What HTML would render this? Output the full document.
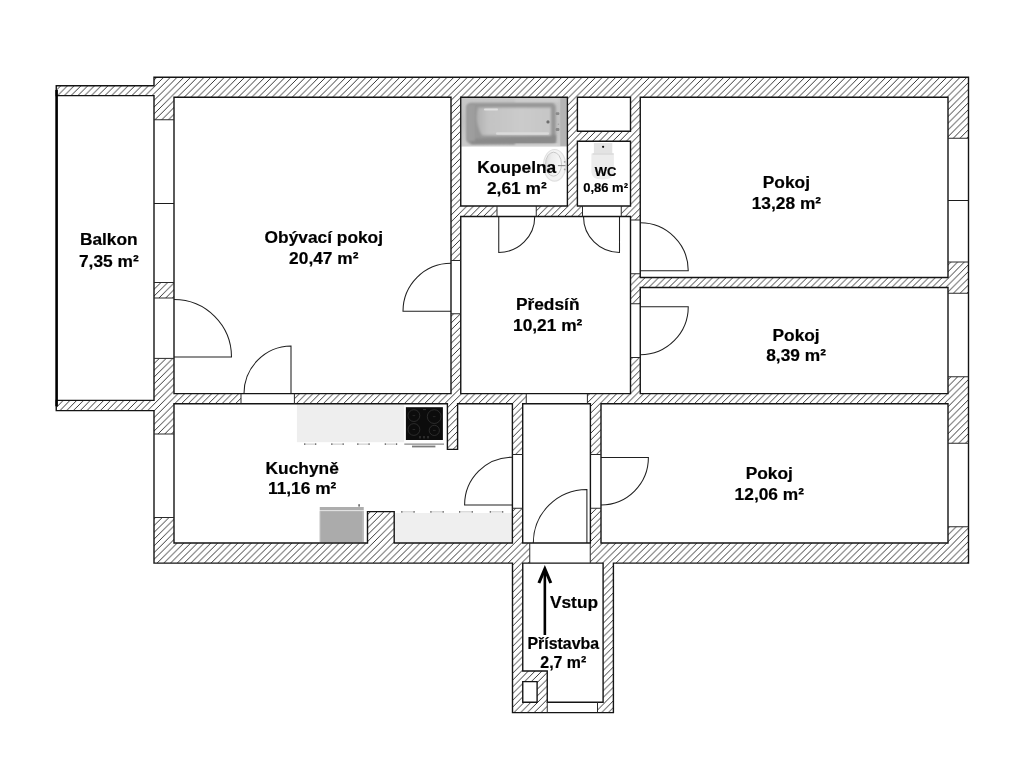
<!DOCTYPE html>
<html lang="cs">
<head>
<meta charset="utf-8">
<title>Půdorys bytu</title>
<style>
html,body{margin:0;padding:0;background:#fff;}
body{width:1024px;height:768px;overflow:hidden;}
svg{display:block;}
</style>
</head>
<body>
<svg width="1024" height="768" viewBox="0 0 1024 768">
<defs>
<pattern id="h" patternUnits="userSpaceOnUse" width="6.75" height="6.75" x="4.7" y="0">
<path d="M-1,1 L1,-1 M-1,7.75 L7.75,-1 M5.75,7.75 L7.75,5.75" stroke="#262626" stroke-width="0.92" fill="none"/>
</pattern>
<linearGradient id="bathOuter" x1="0" y1="0" x2="0" y2="1">
<stop offset="0" stop-color="#c8c8c8"/><stop offset="0.5" stop-color="#c0c0c0"/><stop offset="1" stop-color="#cacaca"/>
</linearGradient>
<linearGradient id="bathIn" x1="0" y1="0" x2="1" y2="0">
<stop offset="0" stop-color="#b0b0b0"/><stop offset="0.15" stop-color="#c3c3c3"/><stop offset="0.6" stop-color="#cbcbcb"/><stop offset="1" stop-color="#c6c6c6"/>
</linearGradient>
<linearGradient id="sinkG" x1="0" y1="0" x2="1" y2="0.3"><stop offset="0" stop-color="#d6d6d6"/><stop offset="0.4" stop-color="#ececec"/><stop offset="1" stop-color="#f8f8f8"/></linearGradient>
<filter id="b1" x="-20%" y="-20%" width="140%" height="140%"><feGaussianBlur stdDeviation="1.2"/></filter>
<filter id="b2" x="-20%" y="-20%" width="140%" height="140%"><feGaussianBlur stdDeviation="0.6"/></filter>
<filter id="tb" x="0" y="0" width="1024" height="768" filterUnits="userSpaceOnUse"><feGaussianBlur stdDeviation="0.28"/></filter>
<filter id="b3" x="-20%" y="-20%" width="140%" height="140%"><feGaussianBlur stdDeviation="0.35"/></filter>
</defs>
<rect width="1024" height="768" fill="#fff"/>
<g id="furniture">
<rect x="296.9" y="404" width="107.5" height="38.2" fill="#eeeeee"/>
<path d="M304.4,444.1 H316" stroke="#9a9a9a" stroke-width="0.6"/>
<rect x="304.09999999999997" y="443.4" width="1.2" height="1.4" fill="#555"/><rect x="315.1" y="443.4" width="1.2" height="1.4" fill="#555"/>
<path d="M331.5,444.1 H343.5" stroke="#9a9a9a" stroke-width="0.6"/>
<rect x="331.2" y="443.4" width="1.2" height="1.4" fill="#555"/><rect x="342.6" y="443.4" width="1.2" height="1.4" fill="#555"/>
<path d="M357.5,444.1 H369.4" stroke="#9a9a9a" stroke-width="0.6"/>
<rect x="357.2" y="443.4" width="1.2" height="1.4" fill="#555"/><rect x="368.5" y="443.4" width="1.2" height="1.4" fill="#555"/>
<path d="M385,444.1 H396.9" stroke="#9a9a9a" stroke-width="0.6"/>
<rect x="384.7" y="443.4" width="1.2" height="1.4" fill="#555"/><rect x="396.0" y="443.4" width="1.2" height="1.4" fill="#555"/>
<rect x="404.2" y="404" width="41.7" height="39.3" fill="#fdfdfd"/>
<rect x="405.9" y="407.2" width="37" height="32.8" fill="#0c0c0c"/>
<circle cx="413.9" cy="415.6" r="5.9" fill="none" stroke="#404040" stroke-width="0.6"/>
<path d="M412.59999999999997,415.6 H415.2" stroke="#444" stroke-width="0.5"/>
<circle cx="434.2" cy="416.6" r="6.9" fill="none" stroke="#404040" stroke-width="0.6"/>
<path d="M432.9,416.6 H435.5" stroke="#444" stroke-width="0.5"/>
<circle cx="413.9" cy="429.5" r="5.9" fill="none" stroke="#404040" stroke-width="0.6"/>
<path d="M412.59999999999997,429.5 H415.2" stroke="#444" stroke-width="0.5"/>
<circle cx="434.3" cy="430.4" r="5.1" fill="none" stroke="#404040" stroke-width="0.6"/>
<path d="M433.0,430.4 H435.6" stroke="#444" stroke-width="0.5"/>
<path d="M420,436 v2.4 M424,436 v2.4 M428,436 v2.4" stroke="#666" stroke-width="0.7"/>
<path d="M423,409.6 h3" stroke="#555" stroke-width="0.6"/>
<path d="M404.3,444.1 H444" stroke="#6a6a6a" stroke-width="1"/>
<path d="M412,446.5 H435.4" stroke="#7c7c7c" stroke-width="1.8"/>
<rect x="319.75" y="507" width="44" height="3.2" fill="#adadad"/>
<rect x="319.75" y="510.2" width="44" height="0.9" fill="#dcdcdc"/>
<rect x="319.75" y="511.1" width="44" height="31.4" fill="#ababab"/>
<rect x="319.75" y="511.1" width="0.8" height="31.4" fill="#c4c4c4"/>
<rect x="362.3" y="511.1" width="1.45" height="31.4" fill="#bdbdbd"/>
<rect x="358.3" y="504.2" width="1.6" height="2.4" fill="#666"/>
<rect x="395" y="513" width="117.4" height="29.8" fill="#efefef"/>
<path d="M401.5,511.9 H414.4" stroke="#9a9a9a" stroke-width="0.6"/>
<rect x="401.2" y="511.2" width="1.2" height="1.4" fill="#555"/><rect x="413.5" y="511.2" width="1.2" height="1.4" fill="#555"/>
<path d="M430.6,511.9 H443.5" stroke="#9a9a9a" stroke-width="0.6"/>
<rect x="430.3" y="511.2" width="1.2" height="1.4" fill="#555"/><rect x="442.6" y="511.2" width="1.2" height="1.4" fill="#555"/>
<path d="M459.3,511.9 H472.6" stroke="#9a9a9a" stroke-width="0.6"/>
<rect x="459.0" y="511.2" width="1.2" height="1.4" fill="#555"/><rect x="471.70000000000005" y="511.2" width="1.2" height="1.4" fill="#555"/>
<path d="M490,511.9 H503" stroke="#9a9a9a" stroke-width="0.6"/>
<rect x="489.7" y="511.2" width="1.2" height="1.4" fill="#555"/><rect x="502.1" y="511.2" width="1.2" height="1.4" fill="#555"/>
<rect x="461.4" y="97.6" width="105.4" height="48.9" fill="url(#bathOuter)"/>
<rect x="560.3" y="97.6" width="6.5" height="48.9" fill="#b3b3b3"/>
<rect x="466.6" y="102.8" width="89.2" height="41" rx="4.5" fill="#979797" filter="url(#b1)"/>
<path d="M470,139 L556,135 L556,143.4 L471,144.2 Z" fill="#8a8a8a" filter="url(#b1)"/>
<path d="M466.8,105 h8 v36 h-8 Z" fill="#9e9e9e" filter="url(#b1)"/>
<path d="M478,107.4 H551 V135.6 H482 Q474,122 478,107.4 Z" fill="url(#bathIn)" filter="url(#b1)"/>
<rect x="484" y="108.6" width="14" height="1.8" rx="0.9" fill="#e0e0e0" filter="url(#b2)"/>
<rect x="496" y="132.2" width="53" height="2.6" rx="1.3" fill="#dadada" filter="url(#b2)"/>
<rect x="515" y="98.6" width="44" height="3" fill="#d0d0d0" filter="url(#b1)"/>
<rect x="515" y="143.8" width="44" height="2.4" fill="#d4d4d4" filter="url(#b1)"/>
<circle cx="548" cy="121.9" r="1.6" fill="#6e6e6e" filter="url(#b3)"/>
<rect x="555.6" y="112.3" width="3.8" height="2.8" rx="1" fill="#8a8a8a" filter="url(#b3)"/>
<rect x="555.6" y="128.1" width="3.8" height="2.8" rx="1" fill="#8a8a8a" filter="url(#b3)"/>
<circle cx="558.4" cy="124.2" r="0.8" fill="#a2a2a2"/>
<rect x="461.4" y="145.9" width="105.4" height="1" fill="#e2e2e2"/>
<ellipse cx="554.6" cy="165.3" rx="11.7" ry="16.4" fill="#e0e0e0" filter="url(#b3)"/>
<ellipse cx="554.6" cy="165.3" rx="10.5" ry="15.2" fill="#f3f3f3" filter="url(#b3)"/>
<ellipse cx="553.5" cy="164.2" rx="8" ry="12" fill="url(#sinkG)" stroke="#c8c8c8" stroke-width="1" filter="url(#b2)"/>
<path d="M557.9,165.6 h7.6" stroke="#8c8c8c" stroke-width="1.1"/>
<circle cx="564.7" cy="161.8" r="0.9" fill="#a4a4a4"/><circle cx="564.7" cy="169.4" r="0.9" fill="#a4a4a4"/>
<path d="M591.4,153.5 H613.9 V172 Q613.9,179.6 602.6,179.6 Q591.4,179.6 591.4,172 Z" fill="#ececec" filter="url(#b3)"/>
<rect x="593.9" y="143" width="18.4" height="10.6" fill="#e3e3e3"/>
<rect x="592.6" y="153.2" width="21" height="1.6" fill="#dadada"/>
<circle cx="603.1" cy="146.8" r="1.1" fill="#111"/>
</g>
<g fill="none" stroke="#202020" stroke-width="1.05">
<path d="M174,357 L231.5,357 A57.50,57.50 0 0 0 174,299.5"/>
<path d="M291,393.6 L291,346 A47.60,47.60 0 0 0 244,393.6"/>
<path d="M451,311.2 L403,311.2 A48.00,48.00 0 0 1 451,263.2"/>
<path d="M498.75,216.5 L498.75,252.5 A36.00,36.00 0 0 0 534.75,216.5"/>
<path d="M619.5,216.5 L619.5,252.5 A36.00,36.00 0 0 1 583.5,216.5"/>
<path d="M640.25,270.75 L688.25,270.75 A48.00,48.00 0 0 0 640.25,222.75"/>
<path d="M640.25,306.75 L688.25,306.75 A48.00,48.00 0 0 1 640.25,354.75"/>
<path d="M512.4,505 L464.6,505 A47.80,47.80 0 0 1 512.4,457.2"/>
<path d="M601,457.5 L648.4,457.5 A47.40,47.40 0 0 1 601,504.9"/>
<path d="M586.9,543 L586.9,489.4 A53.60,53.60 0 0 0 533.3,543"/>
</g>
<path d="M154.00,400.40 L56.25,400.40 L56.25,410.60 L154.00,410.60 L154.00,543.00 L154.00,563.10 L174.00,563.10 L512.50,563.10 L512.50,702.20 L512.50,712.60 L522.75,712.60 L603.10,712.60 L613.40,712.60 L613.40,702.20 L613.40,563.10 L948.00,563.10 L968.50,563.10 L968.50,543.00 L968.50,97.25 L968.50,77.25 L948.00,77.25 L174.00,77.25 L154.00,77.25 L154.00,85.70 L56.25,85.70 L56.25,95.60 L154.00,95.60 L154.00,97.25Z M447.40,403.75 L447.40,449.40 L457.60,449.40 L457.60,403.75 L512.40,403.75 L512.40,543.00 L394.20,543.00 L394.20,511.60 L367.50,511.60 L367.50,543.00 L174.00,543.00 L174.00,403.75Z M590.40,403.75 L590.40,543.00 L522.70,543.00 L522.70,403.75Z M948.00,543.00 L601.00,543.00 L601.00,403.75 L948.00,403.75Z M640.25,287.50 L948.00,287.50 L948.00,393.60 L640.25,393.60Z M460.75,216.50 L630.50,216.50 L630.50,393.60 L460.75,393.60Z M640.25,97.25 L948.00,97.25 L948.00,277.50 L640.25,277.50 L640.25,216.50 L640.25,206.00Z M577.40,141.30 L630.50,141.30 L630.50,206.00 L577.40,206.00Z M460.75,97.25 L567.40,97.25 L567.40,206.00 L460.75,206.00Z M174.00,393.60 L174.00,97.25 L451.00,97.25 L451.00,393.60Z M603.10,563.10 L603.10,702.20 L547.25,702.20 L547.25,671.00 L522.75,671.00 L522.75,563.10Z M577.40,97.25 L630.50,97.25 L630.50,131.20 L577.40,131.20Z M537.10,702.20 L522.75,702.20 L522.75,681.60 L537.10,681.60Z" fill="#fff" fill-rule="evenodd" stroke="none"/>
<path d="M174.00,543.00 L174.00,517.50 L154.00,517.50 L154.00,543.00 L154.00,563.10 L174.00,563.10 L512.50,563.10 L512.50,702.20 L512.50,712.60 L522.75,712.60 L547.25,712.60 L547.25,702.20 L547.25,671.00 L522.75,671.00 L522.75,563.10 L529.75,563.10 L529.75,543.00 L522.70,543.00 L522.70,508.25 L512.40,508.25 L512.40,543.00 L394.20,543.00 L394.20,511.60 L367.50,511.60 L367.50,543.00Z M522.75,702.20 L522.75,681.60 L537.10,681.60 L537.10,702.20Z M603.10,712.60 L613.40,712.60 L613.40,702.20 L613.40,563.10 L948.00,563.10 L968.50,563.10 L968.50,543.00 L968.50,526.75 L948.00,526.75 L948.00,543.00 L601.00,543.00 L601.00,508.25 L590.40,508.25 L590.40,543.00 L590.25,543.00 L590.25,563.10 L603.10,563.10 L603.10,702.20 L597.50,702.20 L597.50,712.60Z M948.00,443.25 L968.50,443.25 L968.50,376.75 L948.00,376.75 L948.00,393.60 L640.25,393.60 L640.25,357.50 L630.50,357.50 L630.50,393.60 L587.40,393.60 L587.40,403.75 L590.40,403.75 L590.40,454.50 L601.00,454.50 L601.00,403.75 L948.00,403.75Z M460.75,393.60 L460.75,313.75 L451.00,313.75 L451.00,393.60 L294.40,393.60 L294.40,403.75 L447.40,403.75 L447.40,449.40 L457.60,449.40 L457.60,403.75 L512.40,403.75 L512.40,454.50 L522.70,454.50 L522.70,403.75 L526.25,403.75 L526.25,393.60Z M56.25,410.60 L154.00,410.60 L154.00,434.00 L174.00,434.00 L174.00,403.75 L241.00,403.75 L241.00,393.60 L174.00,393.60 L174.00,358.40 L154.00,358.40 L154.00,400.40 L56.25,400.40Z M948.00,277.50 L640.25,277.50 L640.25,273.75 L630.50,273.75 L630.50,303.75 L640.25,303.75 L640.25,287.50 L948.00,287.50 L948.00,293.25 L968.50,293.25 L968.50,262.00 L948.00,262.00Z M968.50,77.25 L948.00,77.25 L174.00,77.25 L154.00,77.25 L154.00,85.70 L56.25,85.70 L56.25,95.60 L154.00,95.60 L154.00,97.25 L154.00,119.75 L174.00,119.75 L174.00,97.25 L451.00,97.25 L451.00,260.50 L460.75,260.50 L460.75,216.50 L497.00,216.50 L497.00,206.00 L460.75,206.00 L460.75,97.25 L567.40,97.25 L567.40,206.00 L536.25,206.00 L536.25,216.50 L582.50,216.50 L582.50,206.00 L577.40,206.00 L577.40,141.30 L630.50,141.30 L630.50,206.00 L621.25,206.00 L621.25,216.50 L630.50,216.50 L630.50,220.00 L640.25,220.00 L640.25,216.50 L640.25,206.00 L640.25,97.25 L948.00,97.25 L948.00,138.25 L968.50,138.25 L968.50,97.25Z M630.50,97.25 L630.50,131.20 L577.40,131.20 L577.40,97.25Z M174.00,298.00 L174.00,282.50 L154.00,282.50 L154.00,298.00Z" fill="url(#h)" fill-rule="evenodd" stroke="none"/>
<path d="M154.00,400.40 L56.25,400.40 L56.25,410.60 L154.00,410.60 L154.00,543.00 L154.00,563.10 L174.00,563.10 L512.50,563.10 L512.50,702.20 L512.50,712.60 L522.75,712.60 L603.10,712.60 L613.40,712.60 L613.40,702.20 L613.40,563.10 L948.00,563.10 L968.50,563.10 L968.50,543.00 L968.50,97.25 L968.50,77.25 L948.00,77.25 L174.00,77.25 L154.00,77.25 L154.00,85.70 L56.25,85.70 L56.25,95.60 L154.00,95.60 L154.00,97.25Z M447.40,403.75 L447.40,449.40 L457.60,449.40 L457.60,403.75 L512.40,403.75 L512.40,543.00 L394.20,543.00 L394.20,511.60 L367.50,511.60 L367.50,543.00 L174.00,543.00 L174.00,403.75Z M590.40,403.75 L590.40,543.00 L522.70,543.00 L522.70,403.75Z M948.00,543.00 L601.00,543.00 L601.00,403.75 L948.00,403.75Z M640.25,287.50 L948.00,287.50 L948.00,393.60 L640.25,393.60Z M460.75,216.50 L630.50,216.50 L630.50,393.60 L460.75,393.60Z M640.25,97.25 L948.00,97.25 L948.00,277.50 L640.25,277.50 L640.25,216.50 L640.25,206.00Z M577.40,141.30 L630.50,141.30 L630.50,206.00 L577.40,206.00Z M460.75,97.25 L567.40,97.25 L567.40,206.00 L460.75,206.00Z M174.00,393.60 L174.00,97.25 L451.00,97.25 L451.00,393.60Z M603.10,563.10 L603.10,702.20 L547.25,702.20 L547.25,671.00 L522.75,671.00 L522.75,563.10Z M577.40,97.25 L630.50,97.25 L630.50,131.20 L577.40,131.20Z M537.10,702.20 L522.75,702.20 L522.75,681.60 L537.10,681.60Z" fill="none" stroke="#141414" stroke-width="1.4" stroke-linejoin="miter"/>
<g stroke="#2a2a2a" stroke-width="1" fill="none">
<path d="M154.0,119.75 H174.0 M154.0,282.5 H174.0"/>
<path d="M154.0,203.5 H174.0" stroke="#1c1c1c"/>
<path d="M154.0,298.0 H174.0 M154.0,358.4 H174.0"/>
<path d="M154.0,434.0 H174.0 M154.0,517.5 H174.0"/>
<path d="M948.0,138.25 H968.5 M948.0,262.0 H968.5"/>
<path d="M948.0,200.5 H968.5" stroke="#1c1c1c"/>
<path d="M948.0,293.25 H968.5 M948.0,376.75 H968.5"/>
<path d="M948.0,443.25 H968.5 M948.0,526.75 H968.5"/>
<path d="M451.0,260.5 H460.75 M451.0,313.75 H460.75"/>
<path d="M497.0,206.0 V216.5 M536.25,206.0 V216.5"/>
<path d="M582.5,206.0 V216.5 M621.25,206.0 V216.5"/>
<path d="M630.5,220.0 H640.25 M630.5,273.75 H640.25"/>
<path d="M630.5,303.75 H640.25 M630.5,357.5 H640.25"/>
<path d="M241.0,393.6 V403.75 M294.4,393.6 V403.75"/>
<path d="M526.25,393.6 V403.75 M587.4,393.6 V403.75"/>
<path d="M512.4,454.5 H522.7 M512.4,508.25 H522.7"/>
<path d="M590.4,454.5 H601.0 M590.4,508.25 H601.0"/>
<path d="M529.75,543.0 V563.1 M590.25,543.0 V563.1"/>
<path d="M547.25,702.2 V712.6 M597.5,702.2 V712.6"/>
</g>
<path d="M56.6,90 V406.3" stroke="#000" stroke-width="2.6"/>
<path d="M544.85,635 V570" stroke="#000" stroke-width="2.6" fill="none"/>
<path d="M538.9,583.0 L544.85,568.9 L550.8,583.0" stroke="#000" stroke-width="3.1" fill="none" stroke-linejoin="miter" stroke-miterlimit="10"/>
<g font-family="'Liberation Sans', Arial, sans-serif" font-weight="700" fill="#000" stroke="#000" stroke-width="0.2" text-anchor="middle" filter="url(#tb)">
<text x="108.8" y="245.3" font-size="17.33">Balkon</text>
<text x="108.8" y="266.65" font-size="17.33">7,35 m²</text>
<text x="323.8" y="243.2" font-size="17.33">Obývací pokoj</text>
<text x="323.8" y="264.1" font-size="17.33">20,47 m²</text>
<text x="516.8" y="173.3" font-size="17.33">Koupelna</text>
<text x="516.8" y="194.4" font-size="17.33">2,61 m²</text>
<text x="605.6" y="176.2" font-size="13.0">WC</text>
<text x="605.6" y="192.4" font-size="13.0">0,86 m²</text>
<text x="786.4" y="188.3" font-size="17.33">Pokoj</text>
<text x="786.4" y="209" font-size="17.33">13,28 m²</text>
<text x="547.7" y="310.15" font-size="17.33">Předsíň</text>
<text x="547.7" y="331" font-size="17.33">10,21 m²</text>
<text x="796.1" y="340.5" font-size="17.33">Pokoj</text>
<text x="796.1" y="361.3" font-size="17.33">8,39 m²</text>
<text x="769.3" y="479" font-size="17.33">Pokoj</text>
<text x="769.3" y="499.7" font-size="17.33">12,06 m²</text>
<text x="302.2" y="473.5" font-size="17.33">Kuchyně</text>
<text x="302.2" y="493.7" font-size="17.33">11,16 m²</text>
<text x="574.0" y="607.5" font-size="17.33">Vstup</text>
<text x="563.3" y="649.1" font-size="15.9">Přístavba</text>
<text x="563.3" y="667.8" font-size="15.9">2,7 m²</text>
</g>
</svg>
</body>
</html>
